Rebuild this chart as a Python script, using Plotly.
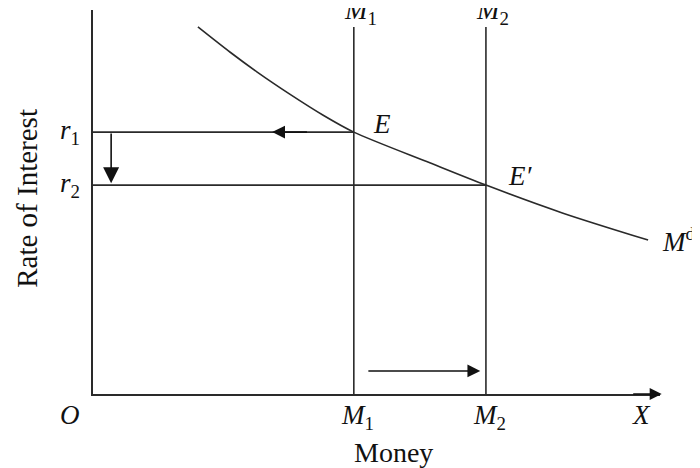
import plotly.graph_objects as go

# money demand curve (Md)
curve_x = [1.85, 2.42, 2.89, 3.47, 4.06, 4.60, 5.94, 6.93, 8.29, 9.79]
curve_y = [9.56, 8.90, 8.39, 7.81, 7.26, 6.82, 6.02, 5.44, 4.71, 4.01]

# money supply levels and interest rates
m_supply = [4.60, 6.93]
m_labels = ['<i>M</i><sub>1</sub>', '<i>M</i><sub>2</sub>']
rates = [6.82, 5.44]
rate_labels = ['<i>r</i><sub>1</sub>', '<i>r</i><sub>2</sub>']
supply_top = 9.56

X_MAX = 10
Y_MAX = 10

line_color = '#2a2a2a'
serif = 'Liberation Serif'

fig = go.Figure()

# demand curve
fig.add_trace(go.Scatter(
    x=curve_x, y=curve_y,
    mode='lines',
    line=dict(color=line_color, width=1.6, shape='spline', smoothing=0.8),
    hoverinfo='skip',
))

# vertical supply lines
for m in m_supply:
    fig.add_trace(go.Scatter(
        x=[m, m], y=[0, supply_top],
        mode='lines',
        line=dict(color=line_color, width=1.6),
        hoverinfo='skip',
    ))

# horizontal rate lines, from the y axis to the matching supply line
for r, m in zip(rates, m_supply):
    fig.add_trace(go.Scatter(
        x=[0, m], y=[r, r],
        mode='lines',
        line=dict(color=line_color, width=1.6),
        hoverinfo='skip',
    ))

font_it = dict(family=serif, size=27, color='#111')
annotations = []

# r labels on the left (paper coords, outside the axes)
for r, lab in zip(rates, rate_labels):
    annotations.append(dict(
        x=-0.02, y=r / Y_MAX, xref='paper', yref='paper', text=lab, showarrow=False,
        xanchor='right', yanchor='middle', font=font_it,
    ))

# M labels at the bottom and the top (top ones run off the page, as in the scan)
for m, lab in zip(m_supply, m_labels):
    annotations.append(dict(
        x=m / X_MAX + 0.006, y=-0.01, xref='paper', yref='paper', text=lab,
        showarrow=False, xanchor='center', yanchor='top', font=font_it,
    ))
    annotations.append(dict(
        x=m / X_MAX + 0.012, y=0.995, xref='paper', yref='paper', text=lab,
        showarrow=False, xanchor='center', yanchor='middle', font=font_it,
    ))

# points and other labels
annotations += [
    dict(x=m_supply[0] + 0.3, y=rates[0] + 0.2, xref='x', yref='y',
         text='<i>E</i>', showarrow=False, xanchor='left', yanchor='middle', font=font_it),
    dict(x=m_supply[1] + 0.35, y=rates[1] + 0.25, xref='x', yref='y',
         text='<i>E′</i>', showarrow=False, xanchor='left', yanchor='middle', font=font_it),
    dict(x=1.0, y=curve_y[-1] / Y_MAX, xref='paper', yref='paper',
         text='<i>M</i><sup>d</sup>', showarrow=False, xanchor='left', yanchor='middle', font=font_it),
    dict(x=-0.041, y=-0.01, xref='paper', yref='paper', text='<i>O</i>', showarrow=False,
         xanchor='center', yanchor='top', font=font_it),
    dict(x=0.968, y=-0.01, xref='paper', yref='paper', text='<i>X</i>', showarrow=False,
         xanchor='center', yanchor='top', font=font_it),
    dict(x=0.53, y=-0.152, xref='paper', yref='paper', text='Money', showarrow=False,
         xanchor='center', yanchor='middle', font=dict(family=serif, size=28, color='#111')),
    dict(x=-0.117, y=0.51, xref='paper', yref='paper', text='Rate of Interest', showarrow=False,
         textangle=-90, xanchor='center', yanchor='middle',
         font=dict(family=serif, size=29, color='#111')),
]

# arrows
arrow = dict(xref='x', yref='y', axref='x', ayref='y', showarrow=True,
             arrowhead=2, arrowsize=1.3, arrowwidth=1.6, arrowcolor='#111', text='')
annotations += [
    dict(arrow, x=0.32, y=rates[1] + 0.05, ax=0.32, ay=rates[0], arrowsize=2.0),
    dict(arrow, x=6.83, y=0.6, ax=4.83, ay=0.6, arrowsize=1.6),
    dict(arrow, x=3.16, y=rates[0], ax=3.8, ay=rates[0], arrowsize=1.6),
    dict(x=1.003, y=0, xref='paper', yref='paper', ax=-30, ay=0, showarrow=True,
         arrowhead=2, arrowsize=1.5, arrowwidth=1.6, arrowcolor='#111', text=''),
]

# the page adds an 8px body margin, so the figure is 8px smaller and shifted
fig.update_layout(
    width=692, height=460,
    margin=dict(l=85, r=40, t=2, b=74),
    paper_bgcolor='white',
    plot_bgcolor='white',
    showlegend=False,
    xaxis=dict(
        range=[0, X_MAX], showgrid=False, zeroline=False, showticklabels=False,
        ticks='', showline=True, linecolor=line_color, linewidth=1.8, fixedrange=True,
    ),
    yaxis=dict(
        range=[0, Y_MAX], showgrid=False, zeroline=False, showticklabels=False,
        ticks='', showline=True, linecolor=line_color, linewidth=1.8, fixedrange=True,
    ),
    annotations=annotations,
)

fig.write_html("out.html")
